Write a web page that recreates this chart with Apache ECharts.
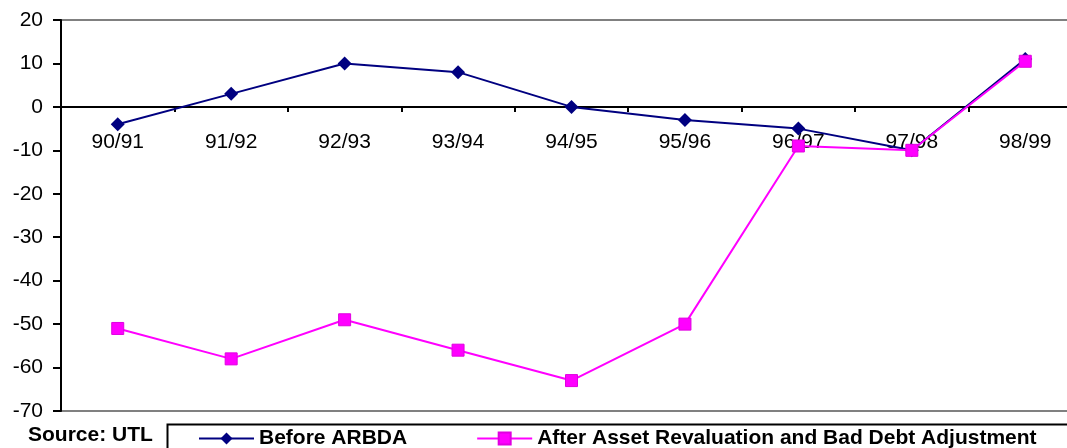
<!DOCTYPE html>
<html>
<head>
<meta charset="utf-8">
<script src="https://cdn.jsdelivr.net/npm/echarts@6/dist/echarts.min.js"></script>
<style>
  html, body { margin: 0; padding: 0; background: #fff; overflow: hidden; }
  /* plot runs a little past the right edge of the window, as in the original */
  #chart { width: 1090px; height: 448px; }
</style>
</head>
<body>
<div id="chart"></div>
<script>
// categories (financial years)
var years = ['90/91', '91/92', '92/93', '93/94', '94/95', '95/96', '96/97', '97/98', '98/99'];
// series values
var beforeArbda = [-4, 3, 10, 8, 0, -3, -5, -10, 11];
var afterAdjust = [-51, -58, -49, -56, -63, -50, -9, -10, 10.5];
var seriesNames = ['Before ARBDA', 'After Asset Revaluation and Bad Debt Adjustment'];
var yMin = -70, yMax = 20;

var font = 'Liberation Sans, Arial, sans-serif';
var gridTop = 20, gridHeight = 391;
// move the category axis up to the zero line (labels go with it)
var zeroOffset = -gridHeight * (0 - yMin) / (yMax - yMin);

var myChart = echarts.init(document.getElementById('chart'));

var option = {
  animation: false,
  grid: {
    left: 61, top: gridTop, width: 1021, height: gridHeight,
    show: true, borderColor: '#808080', borderWidth: 2
  },
  legend: {
    left: 193, top: 423,
    itemWidth: 55, itemHeight: 15,
    itemGap: 69,
    textStyle: { fontFamily: font, fontWeight: 'bold', fontSize: 21, color: '#000' },
    data: seriesNames
  },
  xAxis: {
    type: 'category',
    data: years,
    boundaryGap: true,
    position: 'bottom',
    offset: zeroOffset,
    axisLine: { onZero: false, lineStyle: { color: '#000', width: 2 } },
    axisTick: { show: true, length: 5, lineStyle: { color: '#000', width: 2 } },
    axisLabel: { margin: 25, fontFamily: font, fontSize: 21, color: '#000' },
    splitLine: { show: false }
  },
  yAxis: {
    type: 'value',
    min: yMin, max: yMax, interval: 10,
    axisLine: { show: true, lineStyle: { color: '#000', width: 2 } },
    axisTick: { show: true, length: 8, lineStyle: { color: '#000', width: 2 } },
    axisLabel: { margin: 18, fontFamily: font, fontSize: 21, color: '#000' },
    splitLine: { show: false }
  },
  graphic: [
    {
      type: 'rect', left: 165, top: 422,
      shape: { width: 930, height: 40 },
      style: { fill: 'none', stroke: '#000', lineWidth: 2 }
    },
    {
      type: 'text', left: 28, top: 425,
      style: { text: 'Source: UTL', font: 'bold 21px ' + font, fill: '#000' }
    }
  ],
  series: [
    {
      name: seriesNames[0],
      type: 'line',
      data: beforeArbda,
      symbol: 'diamond', symbolSize: 14,
      lineStyle: { color: '#000080', width: 2 },
      itemStyle: { color: '#000080' },
      z: 2
    },
    {
      name: seriesNames[1],
      type: 'line',
      data: afterAdjust,
      symbol: 'rect', symbolSize: 12,
      lineStyle: { color: '#FF00FF', width: 2 },
      itemStyle: { color: '#FF00FF', borderColor: '#E000E0', borderWidth: 1 },
      z: 3
    }
  ]
};

myChart.setOption(option);
window.onresize = myChart.resize;
</script>
</body>
</html>
